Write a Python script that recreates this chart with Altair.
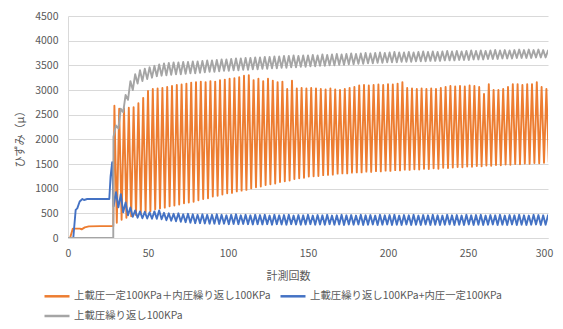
import altair as alt
import pandas as pd

names = ["上載圧一定100KPa＋内圧繰り返し100KPa",
         "上載圧繰り返し100KPa+内圧一定100KPa",
         "上載圧繰り返し100KPa"]
colors = ["#ED7D31", "#4472C4", "#A5A5A5"]

x_ticks = [0, 50, 100, 150, 200, 250, 300]
y_ticks = [0, 500, 1000, 1500, 2000, 2500, 3000, 3500, 4000, 4500]

# ---- orange: 上載圧一定 + 内圧繰り返し ----
orange_pre_x = [0, 1.3, 2.2, 3, 5, 7.5, 8.5, 10.5, 13, 20, 27, 28.3]
orange_pre_y = [0, 0, 100, 190, 190, 190, 175, 215, 235, 240, 240, 240]
orange_first = 29
orange_peaks = [
    2680, 2620, 2630, 2640, 2650, 2730, 2840, 2980, 3020, 3030,
    3040, 3060, 3080, 3100, 3110, 3130, 3150, 3160, 3170, 3160,
    3180, 3170, 3200, 3210, 3230, 3240, 3260, 3290, 3300, 3200,
    3230, 3180, 3230, 3190, 3160, 3170, 3020, 3190, 3030, 3040,
    3030, 3040, 3030, 3020, 3010, 3030, 3010, 3000, 3020, 3040,
    3060, 3090, 3100, 3090, 3100, 3110, 3100, 3120, 3110, 3130,
    3160, 3040, 3030, 3020, 3030, 3020, 3030, 3020, 3040, 3060,
    3080, 3070, 3080, 3070, 3090, 3080, 3060, 2920, 3120, 3000,
    3000, 3020, 3060, 3120, 3120, 3100, 3120, 3120, 3160, 3060,
    3020]
orange_troughs = [
    310, 370, 410, 440, 465, 495, 520, 545, 580, 600,
    615, 645, 660, 680, 705, 720, 735, 765, 790, 805,
    840, 855, 880, 905, 915, 945, 960, 975, 1005, 1030,
    1045, 1075, 1090, 1105, 1135, 1150, 1165, 1195, 1210, 1220,
    1245, 1250, 1255, 1275, 1280, 1285, 1305, 1310, 1310, 1325,
    1330, 1330, 1345, 1340, 1355, 1350, 1365, 1360, 1375, 1370,
    1385, 1380, 1395, 1390, 1405, 1400, 1415, 1405, 1425, 1420,
    1430, 1440, 1435, 1450, 1445, 1460, 1455, 1470, 1465, 1480,
    1475, 1490, 1485, 1500, 1495, 1510, 1505, 1520, 1515, 1525,
    1530]

# ---- blue: 上載圧繰り返し + 内圧一定 ----
blue_pre_x = [0, 3.3, 4.8, 5.8, 7.3, 9, 10, 12, 25.8, 26.6, 27.6, 28.5]
blue_pre_y = [0, 0, 570, 600, 740, 790, 770, 790, 790, 1245, 1535, 640]
blue_first = 30
blue_peaks = [
    930, 890, 720, 620, 560, 540, 530, 520, 540, 560,
    510, 500, 490, 500, 480, 490, 480, 470, 480, 470,
    470, 480, 470, 460, 470, 480, 460, 470, 460, 470,
    465, 470, 455, 470, 460, 465, 470, 455, 465, 460,
    470, 455, 465, 460, 470, 455, 460, 470, 460, 465,
    455, 470, 460, 465, 455, 470, 460, 465, 470, 455,
    465, 460, 470, 455, 465, 460, 470, 460, 455, 470,
    460, 465, 455, 470, 460, 465, 470, 455, 465, 460,
    470, 455, 465, 460, 470, 460, 455, 470, 465, 460,
    460]
blue_troughs = [
    620, 520, 460, 430, 410, 400, 395, 390, 390, 380,
    360, 350, 340, 330, 320, 310, 300, 300, 295, 290,
    290, 285, 290, 280, 285, 280, 285, 280, 275, 280,
    275, 280, 270, 280, 275, 270, 280, 275, 270, 275,
    280, 270, 275, 270, 280, 270, 275, 265, 275, 270,
    275, 265, 270, 275, 265, 270, 275, 265, 270, 265,
    275, 265, 270, 265, 275, 265, 270, 265, 270, 275,
    265, 270, 265, 275, 265, 270, 265, 270, 275, 265,
    270, 265, 275, 265, 270, 265, 270, 275, 265, 270,
    270]

# ---- gray: 上載圧繰り返し ----
gray_pre_x = [0, 28.3, 28.4]
gray_pre_y = [0, 0, 2050]
gray_first = 30
gray_peaks = [
    2280, 2620, 2900, 3180, 3320, 3400, 3430, 3460, 3490, 3520,
    3540, 3550, 3560, 3560, 3570, 3570, 3580, 3580, 3590, 3600,
    3600, 3610, 3620, 3620, 3630, 3640, 3640, 3650, 3650, 3660,
    3660, 3670, 3670, 3680, 3680, 3690, 3690, 3700, 3690, 3700,
    3700, 3710, 3700, 3720, 3710, 3720, 3730, 3720, 3730, 3740,
    3730, 3740, 3750, 3740, 3750, 3760, 3750, 3760, 3770, 3760,
    3760, 3770, 3760, 3770, 3780, 3770, 3780, 3770, 3780, 3790,
    3780, 3790, 3780, 3790, 3800, 3790, 3800, 3790, 3800, 3810,
    3800, 3810, 3800, 3810, 3820, 3810, 3820, 3810, 3820, 3810,
    3800]
gray_troughs = [
    2220, 2550, 2800, 3000, 3130, 3180, 3220, 3250, 3280, 3290,
    3300, 3310, 3320, 3320, 3330, 3340, 3340, 3350, 3360, 3370,
    3370, 3380, 3390, 3390, 3400, 3400, 3410, 3410, 3420, 3420,
    3430, 3430, 3440, 3440, 3450, 3450, 3460, 3460, 3470, 3470,
    3480, 3480, 3490, 3490, 3500, 3500, 3510, 3510, 3520, 3520,
    3530, 3530, 3540, 3540, 3550, 3550, 3560, 3560, 3560, 3570,
    3570, 3570, 3580, 3580, 3580, 3590, 3590, 3590, 3600, 3600,
    3600, 3610, 3610, 3610, 3620, 3620, 3620, 3630, 3630, 3630,
    3640, 3640, 3640, 3650, 3650, 3650, 3650, 3660, 3660, 3660,
    3660]

PERIOD = 3


def build(name, pre_x, pre_y, first, peaks, troughs):
    xs = list(pre_x)
    ys = list(pre_y)
    for k, (p, t) in enumerate(zip(peaks, troughs)):
        xs += [first + PERIOD * k, first + PERIOD * k + PERIOD / 2]
        ys += [p, t]
    return pd.DataFrame({"series": name, "x": xs, "y": ys})


dfs = [
    build(names[0], orange_pre_x, orange_pre_y, orange_first, orange_peaks, orange_troughs),
    build(names[1], blue_pre_x, blue_pre_y, blue_first, blue_peaks, blue_troughs),
    build(names[2], gray_pre_x, gray_pre_y, gray_first, gray_peaks, gray_troughs),
]

FONT = "Noto Sans CJK JP"
TXT = "#595959"

x_enc = alt.X("x:Q", scale=alt.Scale(domain=[0, 300], nice=False),
              axis=alt.Axis(values=x_ticks, grid=False, ticks=False,
                            labelFlush=False,
                            labelOffset=alt.ExprRef("datum.value == 300 ? -4 : 0"),
                            domainColor="#d9d9d9", labelColor=TXT,
                            labelFontSize=10.5, labelFont=FONT, labelPadding=10,
                            title="計測回数", titleFont=FONT, titleFontSize=11,
                            titleFontWeight="normal", titleColor=TXT,
                            titleX=220, titleY=38, titleBaseline="middle"))
y_enc = alt.Y("y:Q", scale=alt.Scale(domain=[0, 4500], nice=False),
              axis=alt.Axis(values=y_ticks, format="d", grid=True,
                            gridColor="#d9d9d9", labelFlush=False,
                            ticks=False, domainColor="#d9d9d9", labelColor=TXT,
                            labelFontSize=10.5, labelFont=FONT, labelPadding=10,
                            title="ひずみ（μ）", titleFont=FONT, titleFontSize=11,
                            titleFontWeight="normal", titleColor=TXT,
                            titleAngle=270, titleX=-48, titleY=120,
                            titleBaseline="middle", titleAlign="center"))
color_enc = alt.Color("series:N", scale=alt.Scale(domain=names, range=colors),
                      legend=alt.Legend(orient="none", legendX=-25, legendY=266,
                                        direction="horizontal", columns=2,
                                        title=None, symbolType="stroke",
                                        symbolSize=625, symbolStrokeWidth=2.5,
                                        labelFont=FONT, labelFontSize=10.4,
                                        labelColor=TXT, labelLimit=400,
                                        labelOffset=3, columnPadding=4,
                                        rowPadding=-9))

layers = [
    alt.Chart(d).mark_line(strokeWidth=1.9, strokeJoin="round", clip=True)
    .encode(x=x_enc, y=y_enc, color=color_enc)
    for d in dfs
]

chart = alt.layer(*layers).properties(
    width=480, height=222,
    autosize=alt.AutoSizeParams(type="none"),
    padding={"left": 60, "top": 8, "right": 7, "bottom": 83},
).configure_view(stroke=None)

chart.save("out.html", embed_options={"renderer": "svg", "actions": False})
